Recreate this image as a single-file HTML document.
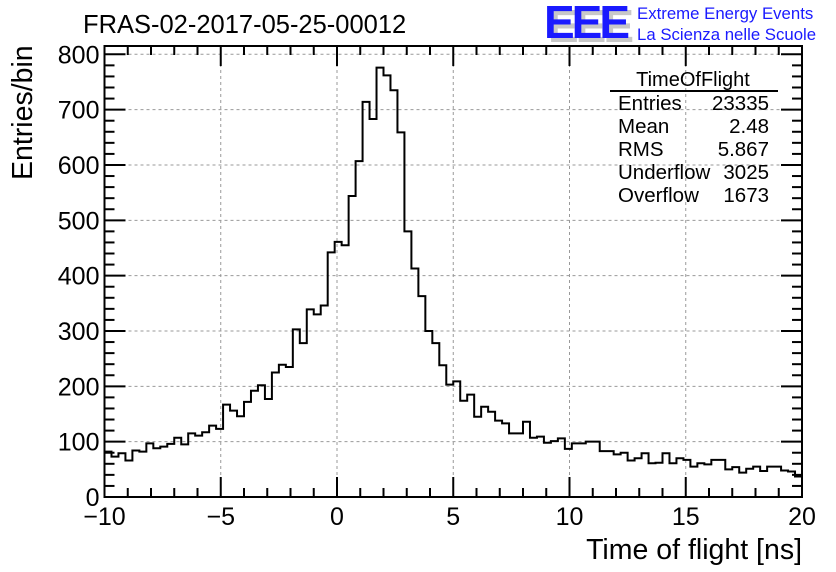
<!DOCTYPE html>
<html><head><meta charset="utf-8"><style>
html,body{margin:0;padding:0;background:#fff;}
svg{display:block;font-family:"Liberation Sans",sans-serif;}
</style></head><body>
<svg id="chart" width="836" height="572" viewBox="0 0 836 572" xmlns="http://www.w3.org/2000/svg">
<rect x="0" y="0" width="836" height="572" fill="#fff"/>
<g id="grid"></g>
<path id="hist" fill="none" stroke="#000" stroke-width="2"/>
<g id="axes"></g>
<text x="83" y="33" font-size="25.5">FRAS-02-2017-05-25-00012</text>
<text transform="translate(32,180) rotate(-90)" font-size="28.5">Entries/bin</text>
<text x="802" y="559" font-size="28.5" text-anchor="end">Time of flight [ns]</text>
<g>
<text x="548" y="42" font-size="46" font-weight="bold" fill="#c8c8c8" letter-spacing="-3">EEE</text>
<text x="544" y="38" font-size="46" font-weight="bold" fill="#1a1aff" letter-spacing="-3">EEE</text>
<text x="637" y="19" font-size="16.8" fill="#1a1aff">Extreme Energy Events</text>
<text x="637" y="40" font-size="16.8" fill="#1a1aff">La Scienza nelle Scuole</text>
</g>
<g font-size="20.5">
<text x="693" y="86" text-anchor="middle" font-size="20">TimeOfFlight</text>
<line x1="610" y1="91" x2="778" y2="91" stroke="#000" stroke-width="2"/>
<text x="618" y="110">Entries</text><text x="769" y="110" text-anchor="end">23335</text>
<text x="618" y="133">Mean</text><text x="769" y="133" text-anchor="end">2.48</text>
<text x="618" y="156">RMS</text><text x="769" y="156" text-anchor="end">5.867</text>
<text x="618" y="179">Underflow</text><text x="769" y="179" text-anchor="end">3025</text>
<text x="618" y="202">Overflow</text><text x="769" y="202" text-anchor="end">1673</text>
</g>
</svg>
<script>
const counts = [82,73,79,66,84,82,97,88,91,96,107,95,115,111,117,129,123,167,156,146,
172,192,202,177,225,239,235,303,278,339,330,346,442,461,455,544,607,714,683,776,
762,735,659,480,413,363,300,278,238,203,209,174,185,145,163,154,138,133,115,115,
136,107,109,98,101,106,87,97,97,100,100,83,83,77,80,66,70,79,61,62,
79,61,70,67,55,61,59,67,67,50,54,44,51,55,47,55,55,48,46,37];
const xTicks = [-10,-5,0,5,10,15,20];
const yTicks = [0,100,200,300,400,500,600,700,800];
const xMin=-10, xMax=20, binW=0.3, yMax=815;
const L=104.5, R=802, T=46, B=497;
const sx=v=>L+(v-xMin)/(xMax-xMin)*(R-L);
const sy=v=>B-v/yMax*(B-T);
const NS="http://www.w3.org/2000/svg";
function mk(tag,attrs,parent,txt){const e=document.createElementNS(NS,tag);for(const k in attrs)e.setAttribute(k,attrs[k]);if(txt!==undefined)e.textContent=txt;parent.appendChild(e);return e;}
const grid=document.getElementById('grid'), axes=document.getElementById('axes');
xTicks.forEach(t=>{if(t>xMin&&t<xMax){const g=mk('line',{x1:sx(t),x2:sx(t),y1:T,y2:B,stroke:'#999','stroke-dasharray':'3,3','stroke-width':1},grid);

}});
yTicks.forEach(t=>{if(t>0){const g=mk('line',{x1:L,x2:R,y1:sy(t),y2:sy(t),stroke:'#999','stroke-dasharray':'3,3','stroke-width':1},grid);

}});
let d='M'+L+','+B;
counts.forEach((c,i)=>{const x0=sx(xMin+i*binW),x1=sx(xMin+(i+1)*binW);d+=' L'+x0+','+sy(c)+' L'+x1+','+sy(c);});
d+=' L'+R+','+B;
document.getElementById('hist').setAttribute('d',d);
const fr=mk('rect',{x:L,y:T,width:R-L,height:B-T,fill:'none',stroke:'#000','stroke-width':2},axes);


for(let v=xMin;v<=xMax;v+=1){const maj=(v%5===0);const len=maj?20:9;
mk('line',{x1:sx(v),x2:sx(v),y1:B,y2:B-len,stroke:'#000','stroke-width':2},axes);
mk('line',{x1:sx(v),x2:sx(v),y1:T,y2:T+len,stroke:'#000','stroke-width':2},axes);}
for(let v=0;v<=yMax;v+=20){const maj=(v%100===0);const len=maj?21:10;
mk('line',{x1:L,x2:L+len,y1:sy(v),y2:sy(v),stroke:'#000','stroke-width':2},axes);
mk('line',{x1:R,x2:R-len,y1:sy(v),y2:sy(v),stroke:'#000','stroke-width':2},axes);}
xTicks.forEach(t=>{const e=mk('text',{x:sx(t),y:B+28,'font-size':25,'text-anchor':'middle'},axes,(t<0?'\u2212'+(-t):String(t)));

});
yTicks.forEach(t=>{const e=mk('text',{x:L-5,y:sy(t)+9,'font-size':25,'text-anchor':'end'},axes,String(t));

});
</script>
</body></html>
